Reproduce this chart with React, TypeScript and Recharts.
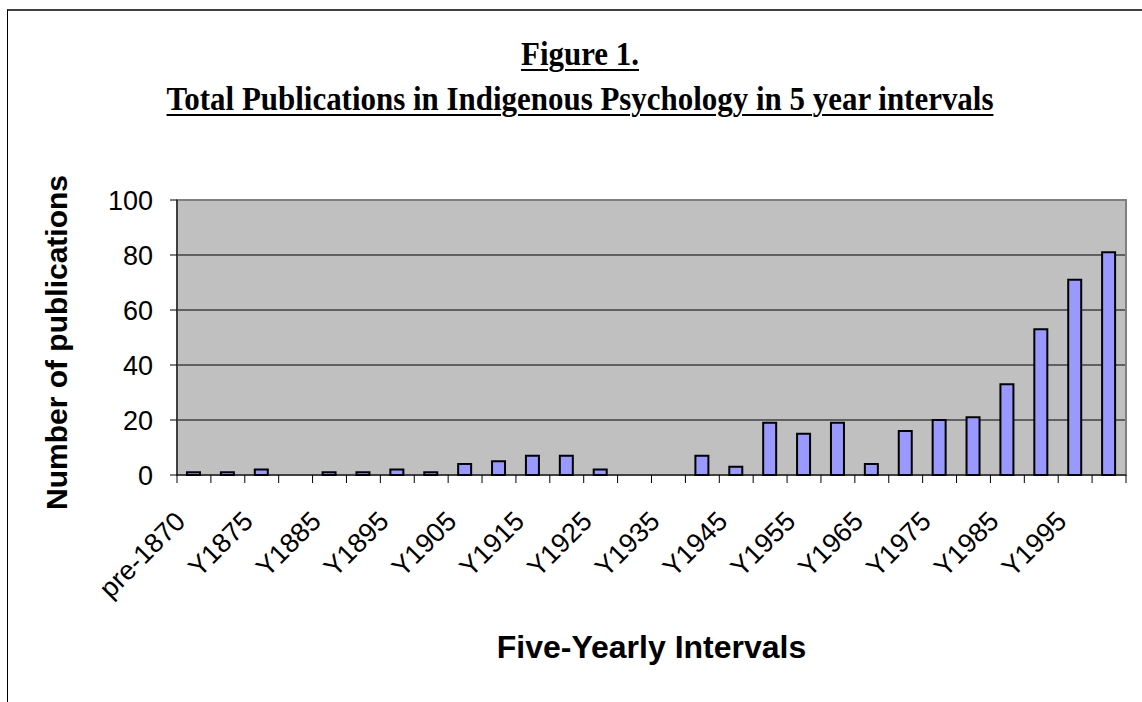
import { BarChart, Bar, XAxis, YAxis, CartesianGrid, ReferenceArea, Label } from 'recharts';

const CATEGORIES = [
  'pre-1870', 'Y1870', 'Y1875', 'Y1880', 'Y1885', 'Y1890', 'Y1895', 'Y1900', 'Y1905', 'Y1910',
  'Y1915', 'Y1920', 'Y1925', 'Y1930', 'Y1935', 'Y1940', 'Y1945', 'Y1950', 'Y1955', 'Y1960',
  'Y1965', 'Y1970', 'Y1975', 'Y1980', 'Y1985', 'Y1990', 'Y1995', 'Y2000',
];
const PUBLICATIONS = [
  1, 1, 2, 0, 1, 1, 2, 1, 4, 5,
  7, 7, 2, 0, 0, 7, 3, 19, 15, 19,
  4, 16, 20, 21, 33, 53, 71, 81,
];
const Y_TICKS = [0, 20, 40, 60, 80, 100];
const GRID_VALUES = [20, 40, 60, 80];

const TITLE = 'Figure 1.';
const SUBTITLE = 'Total Publications in Indigenous Psychology in 5 year intervals';
const X_TITLE = 'Five-Yearly Intervals';
const Y_TITLE = 'Number of publications';

const data = CATEGORIES.map((name, i) => ({ name, value: PUBLICATIONS[i] }));

const W = 1142;
const H = 702;
const PLOT_LEFT = 177;
const PLOT_TOP = 200;
const PLOT_RIGHT = 16;
const X_AXIS_H = 227;
const PLOT_W = W - PLOT_LEFT - PLOT_RIGHT;
const AXIS_Y = H - X_AXIS_H;
const SANS = '"Liberation Sans", Arial, sans-serif';
const SERIF = '"Liberation Serif", "Times New Roman", serif';

function XTick(props: any) {
  const { x, index } = props;
  const half = PLOT_W / CATEGORIES.length / 2;
  const i = index ?? props.payload?.index ?? 0;
  return (
    <g>
      <line x1={x - half} x2={x - half} y1={AXIS_Y} y2={AXIS_Y + 8} stroke="#000" />
      {i === CATEGORIES.length - 1 && (
        <line x1={x + half} x2={x + half} y1={AXIS_Y} y2={AXIS_Y + 8} stroke="#000" />
      )}
      {i % 2 === 0 && (
        <text
          transform={`translate(${x - 7},${AXIS_Y + 48}) rotate(-45)`}
          textAnchor="end"
          fontSize={27}
          fill="#000"
          fontFamily={SANS}
        >
          {props.payload.value}
        </text>
      )}
    </g>
  );
}

function YTitle(props: any) {
  const vb = props.viewBox;
  const cx = vb.x + 60;
  const cy = vb.y + vb.height / 2 + 5;
  return (
    <text
      x={cx}
      y={cy}
      transform={`rotate(-90, ${cx}, ${cy})`}
      textAnchor="middle"
      fontSize={30}
      fontWeight="bold"
      fontFamily={SANS}
      fill="#000"
    >
      {Y_TITLE}
    </text>
  );
}

function XTitle(props: any) {
  const vb = props.viewBox;
  return (
    <text
      x={vb.x + vb.width / 2}
      y={vb.y + 183}
      textAnchor="middle"
      fontSize={32}
      fontWeight="bold"
      fontFamily={SANS}
      fill="#000"
    >
      {X_TITLE}
    </text>
  );
}

// serif title in the picture is a bit narrow, so squeeze it horizontally
const titleStyle: React.CSSProperties = {
  position: 'absolute',
  left: 0,
  width: 1160,
  textAlign: 'center',
  fontFamily: SERIF,
  fontWeight: 'bold',
  fontSize: 34,
  lineHeight: '34px',
  textDecoration: 'underline',
  textDecorationThickness: '2px',
  textUnderlineOffset: '4px',
  color: '#000',
  whiteSpace: 'nowrap',
  transform: 'scaleX(0.91)',
  transformOrigin: '580px 0',
};

export default function App() {
  return (
    <div
      style={{
        position: 'absolute',
        left: 0,
        top: 0,
        width: W,
        height: H,
        background: '#fff',
        overflow: 'hidden',
      }}
    >
      <div
        style={{
          position: 'absolute',
          left: 7,
          top: 9,
          width: W,
          height: H,
          borderTop: '2px solid #404040',
          borderLeft: '1px solid #000',
        }}
      />
      <div style={{ ...titleStyle, top: 37 }}>{TITLE}</div>
      <div style={{ ...titleStyle, top: 82 }}>{SUBTITLE}</div>
      <div style={{ position: 'absolute', left: 0, top: 0 }}>
        <BarChart
          width={W}
          height={H}
          data={data}
          margin={{ top: PLOT_TOP, right: PLOT_RIGHT, bottom: 0, left: 7 }}
          style={{ fontFamily: SANS }}
        >
          <CartesianGrid
            vertical={false}
            horizontalValues={GRID_VALUES}
            stroke="#000"
            fill="#C0C0C0"
            fillOpacity={1}
          />
          <ReferenceArea y1={0} y2={100} stroke="#808080" strokeWidth={2} fill="none" />
          <XAxis
            dataKey="name"
            interval={0}
            height={X_AXIS_H}
            tickLine={false}
            axisLine={{ stroke: '#000' }}
            tick={<XTick />}
          >
            <Label content={<XTitle />} />
          </XAxis>
          <YAxis
            width={PLOT_LEFT - 7}
            domain={[0, 100]}
            ticks={Y_TICKS}
            tickSize={7}
            tickMargin={17}
            tick={{ fontSize: 27, fill: '#000', fontFamily: SANS }}
            axisLine={{ stroke: '#000' }}
            tickLine={{ stroke: '#000' }}
          >
            <Label content={<YTitle />} />
          </YAxis>
          <Bar
            dataKey="value"
            fill="#9999FF"
            stroke="#000"
            strokeWidth={2}
            barSize={13}
            isAnimationActive={false}
          />
        </BarChart>
      </div>
    </div>
  );
}
